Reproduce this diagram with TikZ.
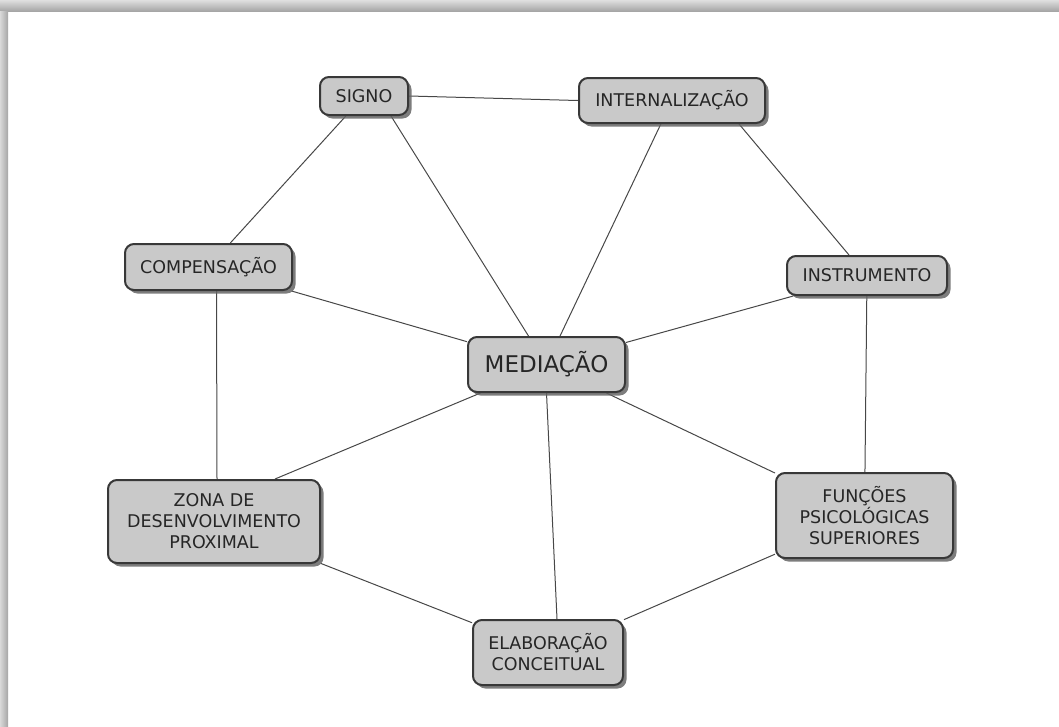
\documentclass[tikz,border=0pt]{standalone}
\usepackage{fontspec}
\setmainfont{DejaVu Sans}
\usetikzlibrary{shadows,backgrounds}

\begin{document}
\begin{tikzpicture}[x=1pt, y=-1pt,
  conceito/.style={draw=black!78, line width=2pt, fill=gray!42, rounded corners=9pt, align=center, text=black!85, inner sep=0pt,
    font=\fontsize{17.5}{21}\selectfont,
    drop shadow={shadow xshift=3.5pt, shadow yshift=-3.5pt, fill=black!60, opacity=0.85}},
  ligacao/.style={draw=black!72, line width=1pt}]
  \useasboundingbox (0,0) rectangle (1059,726);
  \shade[top color=gray!25, bottom color=gray!70] (0,0) rectangle (1059,11);
  \shade[left color=gray!30, right color=gray!70] (0,11) rectangle (8,726);

  \node[conceito, minimum width=88pt, minimum height=38pt] (signo) at (364,96) {SIGNO};
  \node[conceito, minimum width=186pt, minimum height=45pt] (intern) at (672,100.5) {INTERNALIZAÇÃO};
  \node[conceito, minimum width=167pt, minimum height=46pt] (comp) at (208.5,267) {COMPENSAÇÃO};
  \node[conceito, minimum width=160pt, minimum height=39pt] (instr) at (867,275.5) {INSTRUMENTO};
  \node[conceito, minimum width=157pt, minimum height=55pt, font=\fontsize{23}{27}\selectfont] (med) at (546.5,364.5) {MEDIAÇÃO};
  \node[conceito, minimum width=212pt, minimum height=83pt] (zona) at (214,521.5) {ZONA DE\\DESENVOLVIMENTO\\PROXIMAL};
  \node[conceito, minimum width=177pt, minimum height=85pt] (func) at (864.5,515.5) {FUNÇÕES\\PSICOLÓGICAS\\SUPERIORES};
  \node[conceito, minimum width=150pt, minimum height=65pt] (elab) at (548,652.5) {ELABORAÇÃO\\CONCEITUAL};

  \begin{scope}[on background layer]
    \foreach \a/\b in {signo/comp, intern/med, comp/med, instr/med, instr/func, zona/elab, func/elab, med/func}
      \draw[ligacao] (\a) -- (\b);
    \draw[ligacao] (signo.east) -- (intern.west);
    \draw[ligacao] ([xshift=27pt]signo.south) -- ([xshift=-18pt]med.north);
    \draw[ligacao] ([xshift=67pt]intern.south) -- ([xshift=-18pt]instr.north);
    \draw[ligacao] ([xshift=-66pt]med.south) -- ([xshift=61pt]zona.north);
    \draw[ligacao] ([xshift=8pt]comp.south) -- ([xshift=3pt]zona.north);
    \draw[ligacao] (med.south) -- ([xshift=9pt]elab.north);
  \end{scope}
\end{tikzpicture}
\end{document}
